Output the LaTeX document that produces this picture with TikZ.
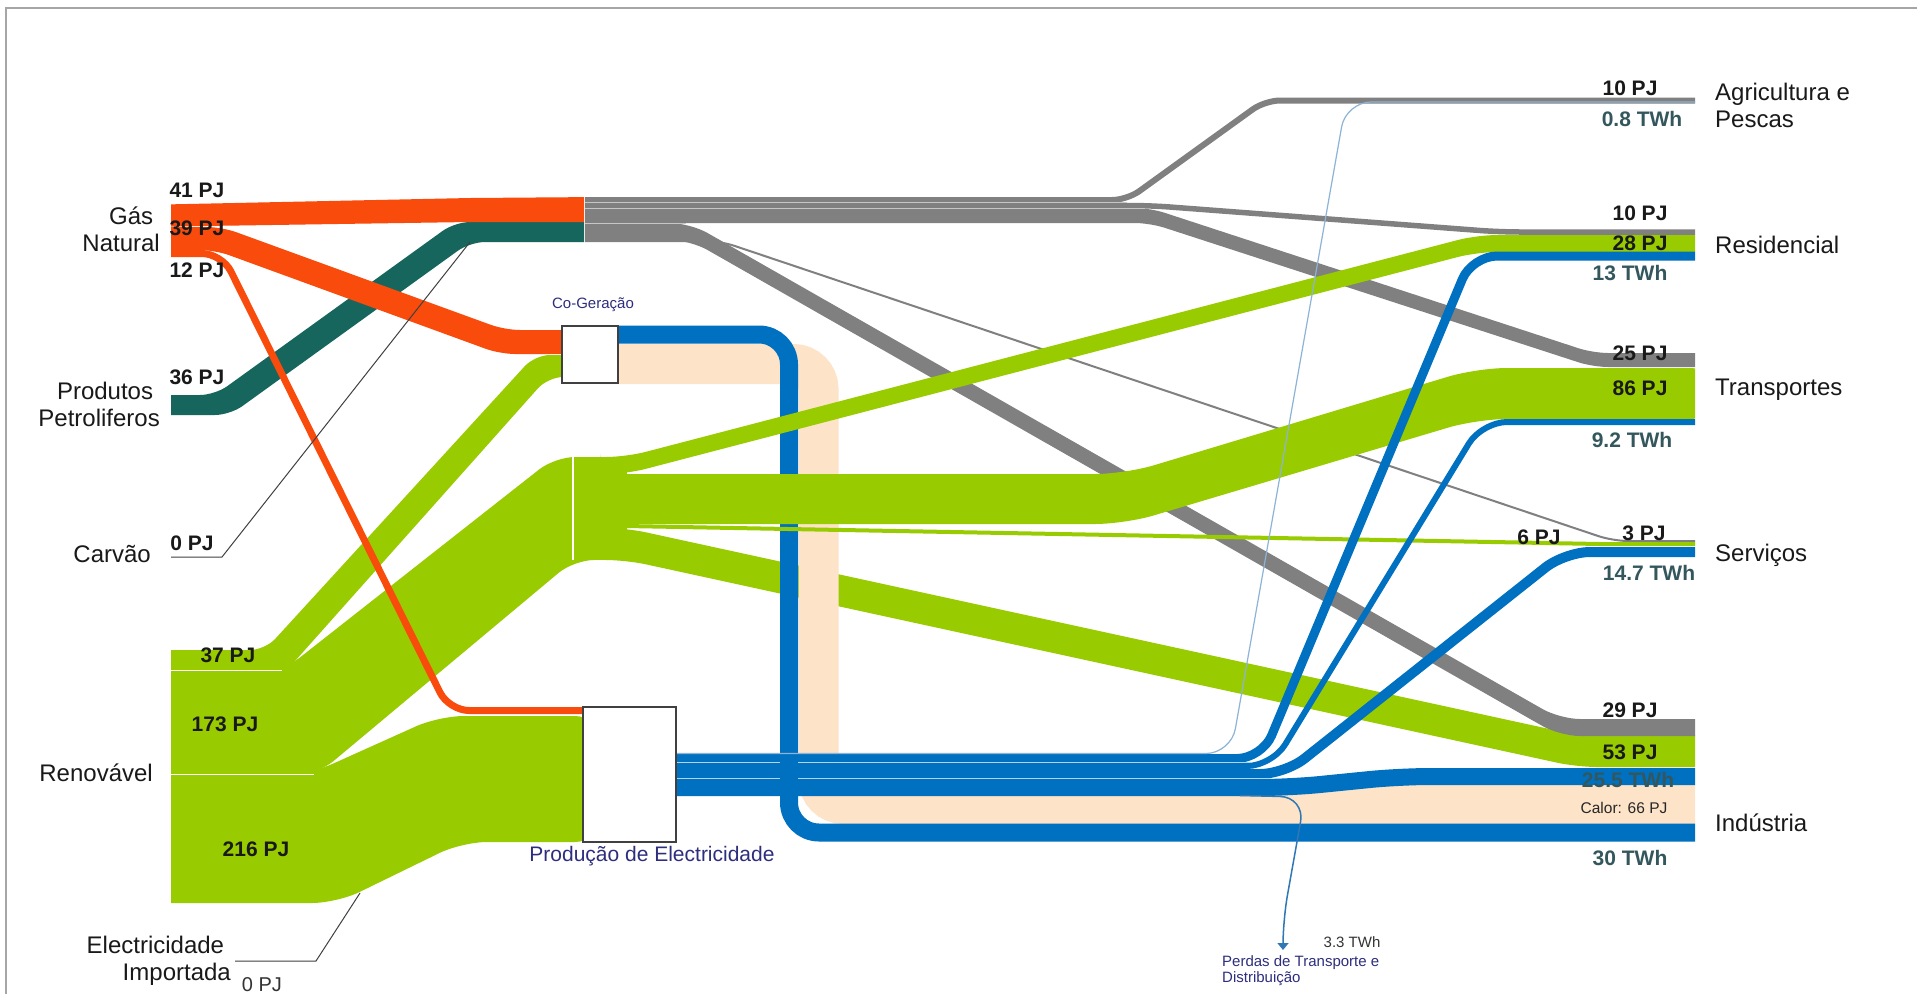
\documentclass[tikz,border=0pt]{standalone}
\usepackage{fontspec}
\setmainfont{Liberation Sans}
\usetikzlibrary{arrows.meta}
\definecolor{gascol}{HTML}{F84B0C}
\definecolor{oilcol}{HTML}{17665E}
\definecolor{fuelcol}{HTML}{808080}
\definecolor{renewcol}{HTML}{99CC00}
\definecolor{eleccol}{HTML}{0070C0}
\definecolor{heatcol}{HTML}{FDE3C8}
\definecolor{thincol}{HTML}{8DB3D6}
\definecolor{losscol}{HTML}{2F77B5}
\definecolor{navycol}{HTML}{2E2E7E}
\definecolor{twhcol}{HTML}{33575C}
\definecolor{framecol}{HTML}{A6A6A6}
\definecolor{linecol}{HTML}{404040}

\begin{document}
\begin{tikzpicture}[x=1pt, y=-1pt,
  cat/.style={font=\fontsize{24}{27}\selectfont, text=black!90, inner sep=0},
  pj/.style={font=\bfseries\fontsize{21}{22}\selectfont, text=black!90, inner sep=0},
  twh/.style={font=\bfseries\fontsize{21}{22}\selectfont, text=twhcol, inner sep=0},
  note/.style={font=\fontsize{15}{15.5}\selectfont, inner sep=0},
  box/.style={draw=linecol, line width=1.2, fill=white, inner sep=0},
  gas/.style={fill=gascol},
  oil/.style={fill=oilcol},
  fuel/.style={fuelcol},
  renew/.style={fill=renewcol},
  elec/.style={eleccol, line cap=butt},
  heat/.style={heatcol, line cap=butt},
  gap/.style={white, line width=1},
  thinline/.style={linecol, line width=1}]

\useasboundingbox (0,0) rectangle (1917,994);
\fill[white] (0,0) rectangle (1917,994);
\draw[framecol, line width=2] (6,994) -- (6,8) -- (1917,8);

\begin{scope}
\clip (171,0) rectangle (1695,994);

\fill[renew, rounded corners=20] (600,528) -- (626,528) -- (1577,735) -- (1720,735) -- (1720,767) -- (1577,767) -- (626,560) -- (600,560) -- cycle;
\draw[heat, line width=40, rounded corners=25] (600,364) -- (818.5,364) -- (818.5,804) -- (1720,804);
\draw[elec, line width=18, rounded corners=30] (600,334.5) -- (789,334.5) -- (789,832.5) -- (1720,832.5);

\begin{scope}
\clip (0,0) rectangle (584,994);
\fill[oil, rounded corners=15] (140,395) -- (215,395) -- (455,222) -- (600,222) -- (600,242) -- (470,242) -- (230,415) -- (140,415) -- cycle;
\fill[gas] (140,205) -- (470,198) -- (600,197) -- (600,222) -- (470,222) -- (140,227) -- cycle;
\end{scope}

\begin{scope}
\clip (585,0) rectangle (1917,994);
\draw[fuel, line width=6, rounded corners=15] (560,200) -- (1127,200) -- (1265,100.5) -- (1720,100.5);
\draw[fuel, line width=5.5, rounded corners=20] (560,205.5) -- (1150,205.5) -- (1500,232) -- (1720,232);
\fill[fuel, rounded corners=15] (560,208) -- (1150,208) -- (1593,353) -- (1720,353) -- (1720,367) -- (1593,367) -- (1150,223) -- (560,223) -- cycle;
\fill[fuel, rounded corners=20] (560,223) -- (690,223) -- (1560,719) -- (1720,719) -- (1720,736) -- (1560,736) -- (690,240) -- (560,240) -- cycle;
\draw[fuel, line width=2, rounded corners=15] (560,241) -- (720,241) -- (1613,541) -- (1720,541);
\draw[white!55!fuelcol, line width=0.8] (585,202.8) -- (1127,202.8);
\draw[white!55!fuelcol, line width=0.8] (585,208.1) -- (1145,208.1);
\draw[white!55!fuelcol, line width=0.8] (585,223) -- (686,223);
\end{scope}

\fill[renew, rounded corners=20] (600,457) -- (626,457) -- (1477,235) -- (1720,235) -- (1720,252) -- (1477,252) -- (626,474) -- (600,474) -- cycle;
\fill[renew, rounded corners=30] (600,474) -- (1125,474) -- (1477,368) -- (1720,368) -- (1720,419) -- (1477,419) -- (1125,524) -- (600,524) -- cycle;
\draw[renewcol, line width=4] (600,526) -- (626,526) -- (1600,544) -- (1720,544);
\fill[renew] (574,457) rectangle (627,560);

\fill[renew, rounded corners=15] (140,650) -- (265,650) -- (535,355) -- (590,355) -- (590,377) -- (548,377) -- (287,670) -- (140,670) -- cycle;
\fill[renew, rounded corners=20] (140,670) -- (284,670) -- (555,457) -- (600,457) -- (600,560) -- (574,560) -- (318,774) -- (140,774) -- cycle;
\fill[renew, rounded corners=25] (140,774) -- (310,774) -- (439,716) -- (600,716) -- (600,842) -- (462,842) -- (337,903) -- (140,903) -- cycle;
\draw[gap] (171,670) -- (282,670);
\draw[gap] (171,774) -- (314,774);
\draw[white, line width=1.5] (573,457) -- (573,560);
\fill[gas, rounded corners=15] (140,227) -- (222,227) -- (505,330) -- (590,330) -- (590,354) -- (500,354) -- (215,250) -- (140,250) -- cycle;
\draw[gascol, line width=7, rounded corners=20] (140,253.5) -- (222,253.5) -- (449,710.5) -- (600,710.5);

\draw[elec, line width=9, rounded corners=25] (650,758.5) -- (1262,758.5) -- (1472,256) -- (1720,256);
\draw[elec, line width=6, rounded corners=25] (650,766) -- (1272,766) -- (1482,422) -- (1720,422);
\draw[elec, line width=10, rounded corners=25] (650,774) -- (1285,774) -- (1565,552) -- (1720,552);
\draw[elec, line width=17, rounded corners=30] (650,787.5) -- (1290,787.5) -- (1400,776.5) -- (1720,776.5);
\draw[white!70!eleccol, line width=0.8] (676,762.8) -- (1250,762.8);
\draw[white!70!eleccol, line width=0.8] (676,778.5) -- (1270,778.5);
\draw[elec, line width=18] (789,745) -- (789,800);
\draw[thincol, line width=1.2, rounded corners=25] (650,753.5) -- (1231,753.5) -- (1346,102) -- (1720,102);
\end{scope}

\draw[losscol, line width=1.5, rounded corners=25, -{Triangle[width=11pt,length=7pt]}] (1240,795.5) -- (1305,797) -- (1283,920) -- (1283,950);
\draw[thinline] (171,557) -- (222,557) -- (470,242);
\draw[thinline] (235,961) -- (316,961) -- (360,893);

\node[box, minimum width=56, minimum height=57] (cogeracao) at (590,354.5) {};
\node[box, minimum width=93, minimum height=135] (producao) at (629.5,774.5) {};
\node[note, text=navycol] (cogeracaolab) at (593,305) {Co-Geração};
\node[font=\fontsize{21}{22}\selectfont, text=navycol, inner sep=0] (producaolab) at (652,856) {Produção de Electricidade};

\node[cat, anchor=east, align=right] (gasnat) at (160,229) {Gás\hspace*{6.7pt}\\Natural};
\node[cat, anchor=east, align=right] (petrol) at (160,404) {Produtos\hspace*{6.7pt}\\Petroliferos};
\node[cat, anchor=east] (carvao) at (151,554) {Carvão};
\node[cat, anchor=east] (renov) at (153,773) {Renovável};
\node[cat, anchor=east, align=right] (importada) at (231,961) {Electricidade\hspace*{6.7pt}\\Importada};

\node[pj] (gas41) at (197,190) {41 PJ};
\node[pj] (gas39) at (197,228) {39 PJ};
\node[pj] (gas12) at (197,270) {12 PJ};
\node[pj] (petrol36) at (197,377) {36 PJ};
\node[pj] (carvao0) at (192,543) {0 PJ};
\node[pj] (renov37) at (228,655) {37 PJ};
\node[pj] (renov173) at (225,724) {173 PJ};
\node[pj] (renov216) at (256,849) {216 PJ};
\node[font=\fontsize{20}{21}\selectfont, text=black!80, inner sep=0] (importada0) at (262,985) {0 PJ};

\node[cat, anchor=west, align=left] (agricultura) at (1715,105) {Agricultura e\\Pescas};
\node[cat, anchor=west] (residencial) at (1715,245) {Residencial};
\node[cat, anchor=west] (transportes) at (1715,390) {Transportes};
\node[cat, anchor=west] (servicos) at (1715,555) {Serviços};
\node[cat, anchor=west] (industria) at (1715,823) {Indústria};

\node[pj] (agri10) at (1630,88) {10 PJ};
\node[twh] (agritwh) at (1642,119) {0.8 TWh};
\node[pj] (res10) at (1640,213) {10 PJ};
\node[pj] (res28) at (1640,243) {28 PJ};
\node[twh] (restwh) at (1630,273) {13 TWh};
\node[pj] (tra25) at (1640,353) {25 PJ};
\node[pj] (tra86) at (1640,388) {86 PJ};
\node[twh] (tratwh) at (1632,440) {9.2 TWh};
\node[pj] (ser6) at (1539,537) {6 PJ};
\node[pj] (ser3) at (1644,533) {3 PJ};
\node[twh] (sertwh) at (1649,573) {14.7 TWh};
\node[pj] (ind29) at (1630,710) {29 PJ};
\node[pj] (ind53) at (1630,752) {53 PJ};
\node[twh] (indtwh) at (1628,780) {25.5 TWh};
\node[font=\fontsize{15.5}{16}\selectfont, text=black!85, inner sep=0] (calor) at (1624,808) {Calor: 66 PJ};
\node[twh] (indcog) at (1630,858) {30 TWh};

\node[note, text=black!80] (perdasval) at (1352,942) {3.3 TWh};
\node[note, text=navycol, anchor=west, align=left] (perdas) at (1222,970.5) {Perdas de Transporte e\\Distribuição};
\end{tikzpicture}
\end{document}
